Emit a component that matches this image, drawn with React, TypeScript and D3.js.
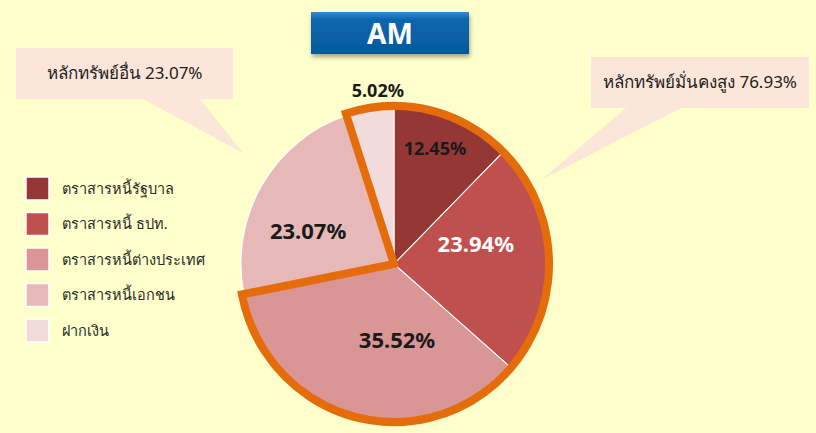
import { useEffect, useRef } from "react";
import * as d3 from "d3";

// Portfolio mix, clockwise from 12 o'clock
const categories = [
  "ตราสารหนี้รัฐบาล",
  "ตราสารหนี้ ธปท.",
  "ตราสารหนี้ต่างประเทศ",
  "ตราสารหนี้เอกชน",
  "ฝากเงิน",
];
const shares = [12.45, 23.94, 35.52, 23.07, 5.02];
const sliceColors = ["#953735", "#C0504D", "#D99694", "#E6B9B8", "#F2DCDB"];
const labelColors = ["#1a1a1a", "#ffffff", "#1a1a1a", "#1a1a1a", "#1a1a1a"];

// slices that make up the "high security" group (outlined in orange)
const secureGroup = [4, 0, 1, 2];
const calloutOther = "หลักทรัพย์อื่น 23.07%";
const calloutSecure = "หลักทรัพย์มั่นคงสูง 76.93%";
const title = "AM";

const W = 816;
const H = 433;
const FONT = "'Noto Sans', 'Open Sans', sans-serif";

export default function App() {
  const svgRef = useRef<SVGSVGElement | null>(null);

  useEffect(() => {
    const svg = d3.select(svgRef.current);
    svg.selectAll("*").remove();
    svg.attr("width", W).attr("height", H);

    svg.append("rect").attr("width", W).attr("height", H).attr("fill", "#FFFFCC");

    const defs = svg.append("defs");
    const grad = defs.append("linearGradient")
      .attr("id", "titleGrad")
      .attr("x1", 0).attr("y1", 0).attr("x2", 0).attr("y2", 1);
    grad.append("stop").attr("offset", "0%").attr("stop-color", "#3A8AD4");
    grad.append("stop").attr("offset", "18%").attr("stop-color", "#0A66AE");
    grad.append("stop").attr("offset", "100%").attr("stop-color", "#055A9C");
    const shadow = defs.append("filter").attr("id", "shadow")
      .attr("x", "-10%").attr("y", "-10%").attr("width", "130%").attr("height", "150%");
    shadow.append("feDropShadow")
      .attr("dx", 1).attr("dy", 3).attr("stdDeviation", 2)
      .attr("flood-color", "#000").attr("flood-opacity", 0.35);

    // ----- title box -----
    svg.append("rect")
      .attr("x", 311).attr("y", 12).attr("width", 158).attr("height", 42)
      .attr("fill", "url(#titleGrad)")
      .attr("filter", "url(#shadow)");
    svg.append("text")
      .attr("x", 390).attr("y", 44)
      .attr("text-anchor", "middle")
      .attr("font-family", FONT)
      .attr("font-weight", "bold")
      .attr("font-size", 28)
      .attr("fill", "#fff")
      .text(title);

    // ----- callouts -----
    const callout = (x: number, y: number, w: number, h: number,
      t1: number, t2: number, tip: [number, number], text: string) => {
      const p = d3.path();
      p.moveTo(x, y);
      p.lineTo(x + w, y);
      p.lineTo(x + w, y + h);
      if (t1 < t2) {
        p.lineTo(t2, y + h);
        p.lineTo(tip[0], tip[1]);
        p.lineTo(t1, y + h);
      }
      p.lineTo(x, y + h);
      p.closePath();
      svg.append("path").attr("d", p.toString()).attr("fill", "#FCE6DA");
      svg.append("text")
        .attr("x", x + w / 2).attr("y", y + h / 2)
        .attr("dy", "0.35em")
        .attr("text-anchor", "middle")
        .attr("font-family", FONT)
        .attr("font-size", 17)
        .attr("fill", "#222")
        .text(text);
    };
    callout(16, 48, 217, 51, 143, 200, [243, 153], calloutOther);
    callout(591, 57, 218, 51, 626, 681, [541, 180], calloutSecure);

    // ----- pie -----
    const cx = 394, cy = 264, R = 153;
    const g = svg.append("g").attr("transform", `translate(${cx},${cy})`);
    const shapes = g.append("g").attr("transform", "scale(1,1.02)");
    const pie = d3.pie<number>().sort(null).value((d) => d);
    const arcs = pie(shares);
    const arc = d3.arc<d3.PieArcDatum<number>>().innerRadius(0).outerRadius(R);

    shapes.selectAll("path.slice")
      .data(arcs)
      .join("path")
      .attr("class", "slice")
      .attr("d", arc)
      .attr("fill", (_, i) => sliceColors[i])
      .attr("stroke", "#fff")
      .attr("stroke-width", 1);

    // orange outline around the secure group (contiguous wedge)
    const first = arcs[secureGroup[0]];
    const last = arcs[secureGroup[secureGroup.length - 1]];
    const outline = d3.arc()({
      innerRadius: 0,
      outerRadius: R + 2,
      startAngle: first.startAngle - 2 * Math.PI,
      endAngle: last.endAngle,
    } as any);
    shapes.append("path")
      .attr("d", outline as string)
      .attr("fill", "none")
      .attr("stroke", "#E46C0A")
      .attr("stroke-width", 8)
      .attr("stroke-linejoin", "miter");

    // data labels
    const labelR = [0.8, 0.55, 0.5, 0.6, 1.14];
    const labelAngleShift = [-0.05, -0.2, -0.3, -0.17, 0.065];
    const labelSize = [18, 22, 22, 22, 18];
    arcs.forEach((a, i) => {
      const ang = (a.startAngle + a.endAngle) / 2 + labelAngleShift[i];
      const r = R * labelR[i];
      g.append("text")
        .attr("x", Math.sin(ang) * r)
        .attr("y", -Math.cos(ang) * r)
        .attr("dy", "0.35em")
        .attr("text-anchor", "middle")
        .attr("font-family", FONT)
        .attr("font-weight", "bold")
        .attr("font-size", labelSize[i])
        .attr("fill", labelColors[i])
        .text(`${shares[i].toFixed(2)}%`);
    });

    // ----- legend -----
    const legend = svg.append("g").attr("transform", "translate(26,177)");
    categories.forEach((c, i) => {
      const row = legend.append("g").attr("transform", `translate(0,${i * 35.5})`);
      row.append("rect")
        .attr("width", 23).attr("height", 23)
        .attr("fill", sliceColors[i])
        .attr("stroke", "#fff").attr("stroke-width", 1.5);
      row.append("text")
        .attr("x", 36).attr("y", 11.5)
        .attr("dy", "0.35em")
        .attr("font-family", FONT)
        .attr("font-size", 14.5)
        .attr("fill", "#2a2a2a")
        .text(c);
    });
  }, []);

  return (
    <div style={{ position: "absolute", left: 0, top: 0 }}>
      <svg ref={svgRef}></svg>
    </div>
  );
}
